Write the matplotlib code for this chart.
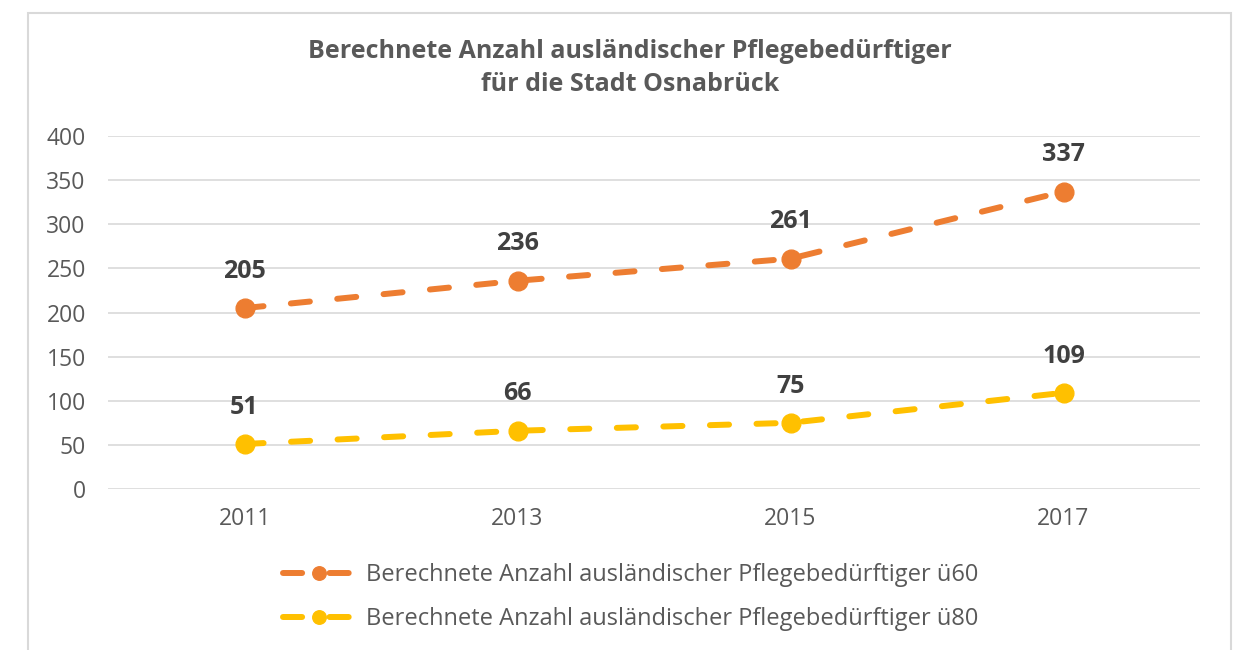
import matplotlib
matplotlib.use('Agg')
import matplotlib.pyplot as plt
from matplotlib.patches import Rectangle

# data
years = ['2011', '2013', '2015', '2017']
ue60 = [205, 236, 261, 337]
ue80 = [51, 66, 75, 109]
series_names = ['Berechnete Anzahl ausländischer Pflegebedürftiger ü60',
                'Berechnete Anzahl ausländischer Pflegebedürftiger ü80']
title = 'Berechnete Anzahl ausländischer Pflegebedürftiger\nfür die Stadt Osnabrück'
yticks = [0, 50, 100, 150, 200, 250, 300, 350, 400]

plt.rcParams['font.family'] = ['Open Sans', 'DejaVu Sans']

W, H = 1237, 650
fig = plt.figure(figsize=(W / 100, H / 100), dpi=100)
ax = fig.add_axes([108 / W, 1 - 489 / H, (1200 - 108) / W, (489 - 136) / H])

# chart frame
fig.patches.append(Rectangle((28 / W, -0.05), (1231 - 28) / W, 1.05 - 13 / H,
                             transform=fig.transFigure, fill=False,
                             edgecolor='#D9D9D9', lw=1.5))

x = list(range(len(years)))
colors = ['#ED7D31', '#FFC000']
for vals, col, name in zip([ue60, ue80], colors, series_names):
    line, = ax.plot(x, vals, color=col, lw=4.3, marker='o', ms=13.5,
                    dash_capstyle='round', label=name, zorder=3)
    line.set_dashes((3.2, 4.6))
    for xi, v in zip(x, vals):
        ax.annotate(str(v), (xi, v), xytext=(0, 26.5), textcoords='offset points',
                    ha='center', va='center', fontsize=18, fontweight='bold',
                    color='#404040')

ax.set_xlim(-0.5, len(years) - 0.5)
ax.set_ylim(0, 400)
ax.set_yticks(yticks)
ax.set_xticks(x)
ax.set_xticklabels(years)
ax.tick_params(length=0, labelsize=16.5, labelcolor='#595959')
ax.tick_params(axis='y', pad=16)
ax.tick_params(axis='x', pad=13)
ax.grid(axis='y', color='#D9D9D9', lw=1.2)
ax.set_axisbelow(True)
for s in ax.spines.values():
    s.set_visible(False)

fig.text(630 / W, 1 - 68 / H, title, ha='center', va='center', fontsize=18,
         fontweight='bold', color='#595959', linespacing=1.42)

fig.legend(loc='center', bbox_to_anchor=(631 / W, 1 - 597 / H), ncol=1,
           frameon=False, fontsize=17, labelcolor='#595959', handlelength=3.0,
           handletextpad=0.5, labelspacing=0.86, markerscale=0.72)

fig.savefig('out.png', dpi=100, facecolor='white')
